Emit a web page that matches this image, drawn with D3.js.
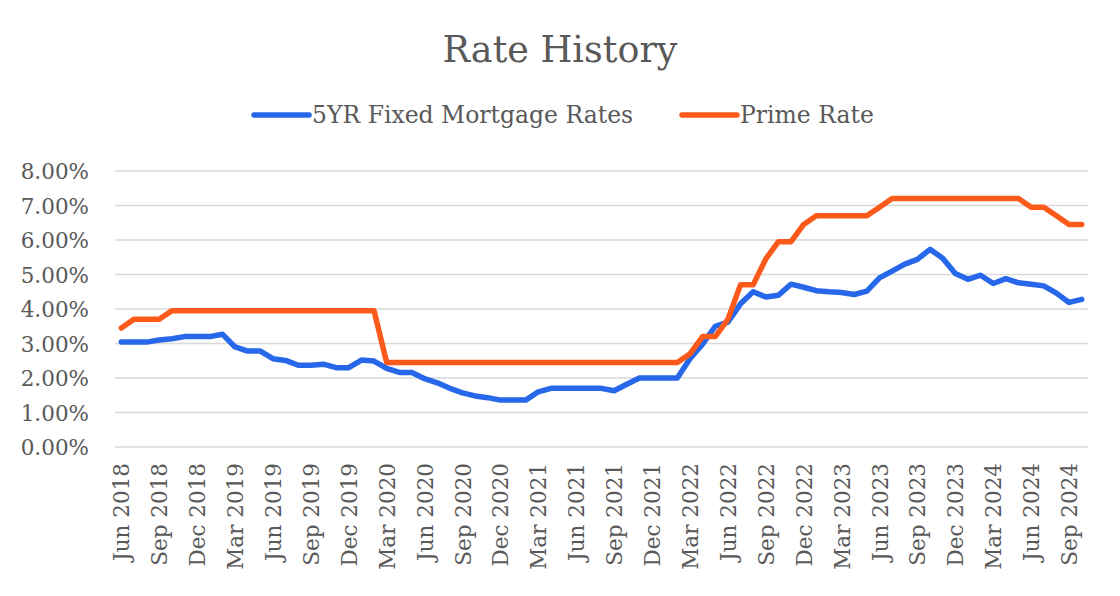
<!DOCTYPE html>
<html>
<head>
<meta charset="utf-8">
<script src="https://cdn.jsdelivr.net/npm/d3@7"></script>
<style>
  html, body { margin: 0; padding: 0; background: #fff; }
  svg text { font-family: "DejaVu Serif", "Liberation Serif", serif; fill: #595959; }
</style>
</head>
<body>
<div id="chart"></div>
<script>
// month categories, Jun 2018 .. Oct 2024
var months = [
  'Jun 2018', 'Jul 2018', 'Aug 2018', 'Sep 2018', 'Oct 2018', 'Nov 2018', 'Dec 2018',
  'Jan 2019', 'Feb 2019', 'Mar 2019', 'Apr 2019', 'May 2019', 'Jun 2019', 'Jul 2019', 'Aug 2019', 'Sep 2019', 'Oct 2019', 'Nov 2019', 'Dec 2019',
  'Jan 2020', 'Feb 2020', 'Mar 2020', 'Apr 2020', 'May 2020', 'Jun 2020', 'Jul 2020', 'Aug 2020', 'Sep 2020', 'Oct 2020', 'Nov 2020', 'Dec 2020',
  'Jan 2021', 'Feb 2021', 'Mar 2021', 'Apr 2021', 'May 2021', 'Jun 2021', 'Jul 2021', 'Aug 2021', 'Sep 2021', 'Oct 2021', 'Nov 2021', 'Dec 2021',
  'Jan 2022', 'Feb 2022', 'Mar 2022', 'Apr 2022', 'May 2022', 'Jun 2022', 'Jul 2022', 'Aug 2022', 'Sep 2022', 'Oct 2022', 'Nov 2022', 'Dec 2022',
  'Jan 2023', 'Feb 2023', 'Mar 2023', 'Apr 2023', 'May 2023', 'Jun 2023', 'Jul 2023', 'Aug 2023', 'Sep 2023', 'Oct 2023', 'Nov 2023', 'Dec 2023',
  'Jan 2024', 'Feb 2024', 'Mar 2024', 'Apr 2024', 'May 2024', 'Jun 2024', 'Jul 2024', 'Aug 2024', 'Sep 2024', 'Oct 2024'
];

var fixedRates = [
  3.04, 3.04, 3.04, 3.10, 3.14, 3.20, 3.20,
  3.20, 3.27, 2.90, 2.78, 2.78, 2.56, 2.51, 2.37, 2.37, 2.40, 2.30, 2.30,
  2.52, 2.49, 2.28, 2.16, 2.16, 1.98, 1.86, 1.70, 1.57, 1.48, 1.43, 1.36,
  1.36, 1.36, 1.60, 1.70, 1.70, 1.70, 1.70, 1.70, 1.63, 1.82, 2.00, 2.00,
  2.00, 2.00, 2.56, 2.98, 3.50, 3.62, 4.15, 4.50, 4.35, 4.40, 4.72, 4.63,
  4.53, 4.50, 4.48, 4.42, 4.52, 4.90, 5.10, 5.30, 5.44, 5.73, 5.47, 5.03,
  4.86, 4.98, 4.74, 4.88, 4.76, 4.72, 4.67, 4.46, 4.19, 4.28
];

var primeRates = [
  3.45, 3.70, 3.70, 3.70, 3.95, 3.95, 3.95,
  3.95, 3.95, 3.95, 3.95, 3.95, 3.95, 3.95, 3.95, 3.95, 3.95, 3.95, 3.95,
  3.95, 3.95, 2.45, 2.45, 2.45, 2.45, 2.45, 2.45, 2.45, 2.45, 2.45, 2.45,
  2.45, 2.45, 2.45, 2.45, 2.45, 2.45, 2.45, 2.45, 2.45, 2.45, 2.45, 2.45,
  2.45, 2.45, 2.70, 3.20, 3.20, 3.70, 4.70, 4.70, 5.45, 5.95, 5.95, 6.45,
  6.70, 6.70, 6.70, 6.70, 6.70, 6.95, 7.20, 7.20, 7.20, 7.20, 7.20, 7.20,
  7.20, 7.20, 7.20, 7.20, 7.20, 6.95, 6.95, 6.70, 6.45, 6.45
];

var yTicks = [0, 1, 2, 3, 4, 5, 6, 7, 8];

var seriesNames = ['5YR Fixed Mortgage Rates', 'Prime Rate'];
var seriesColors = ['#2767EA', '#FC5A1A'];

const width = 1120;
const height = 596;

var svg = d3.select('#chart')
  .append('svg')
  .attr('width', width)
  .attr('height', height);

var x = d3.scalePoint()
  .domain(months)
  .range([115, 1088])
  .padding(0.5);

var y = d3.scaleLinear()
  .domain([0, 8])
  .range([447, 171]);

// gridlines
svg.append('g')
  .selectAll('line')
  .data(yTicks)
  .enter()
  .append('line')
  .attr('x1', 115)
  .attr('x2', 1088)
  .attr('y1', d => y(d))
  .attr('y2', d => y(d))
  .attr('stroke', '#d9d9d9')
  .attr('stroke-width', 1.5);

// y axis labels
var yAxis = svg.append('g')
  .attr('transform', 'translate(89,0)')
  .call(d3.axisLeft(y).tickValues(yTicks).tickSize(0).tickPadding(0)
    .tickFormat(d => d.toFixed(2) + '%'));
yAxis.select('.domain').remove();
yAxis.selectAll('text')
  .attr('font-size', 21.5)
  .attr('dy', '0.35em');

// x axis labels, every third month
var xAxis = svg.append('g')
  .attr('transform', 'translate(0,463)')
  .call(d3.axisBottom(x)
    .tickValues(months.filter((m, i) => i % 3 === 0))
    .tickSize(0).tickPadding(0));
xAxis.select('.domain').remove();
xAxis.selectAll('text')
  .attr('font-size', 21.5)
  .attr('transform', 'rotate(-90)')
  .attr('text-anchor', 'end')
  .attr('x', 0)
  .attr('y', 0)
  .attr('dy', '0.35em');

// lines
var line = d3.line()
  .x((d, i) => x(months[i]))
  .y(d => y(d));

[fixedRates, primeRates].forEach(function (vals, k) {
  svg.append('path')
    .datum(vals)
    .attr('d', line)
    .attr('fill', 'none')
    .attr('stroke', seriesColors[k])
    .attr('stroke-width', 5.5)
    .attr('stroke-linejoin', 'round')
    .attr('stroke-linecap', 'round');
});

// title
svg.append('text')
  .attr('x', 560)
  .attr('y', 62)
  .attr('text-anchor', 'middle')
  .attr('font-size', 36.5)
  .text('Rate History');

// legend
var legendX = [252, 680];
seriesNames.forEach(function (name, k) {
  var g = svg.append('g').attr('transform', 'translate(' + legendX[k] + ',115)');
  g.append('line')
    .attr('x1', 2).attr('x2', 57)
    .attr('y1', 0).attr('y2', 0)
    .attr('stroke', seriesColors[k])
    .attr('stroke-width', 5.5)
    .attr('stroke-linecap', 'round');
  g.append('text')
    .attr('x', 60)
    .attr('y', 0)
    .attr('dy', '0.35em')
    .attr('font-size', 23.5)
    .text(name);
});
</script>
</body>
</html>
